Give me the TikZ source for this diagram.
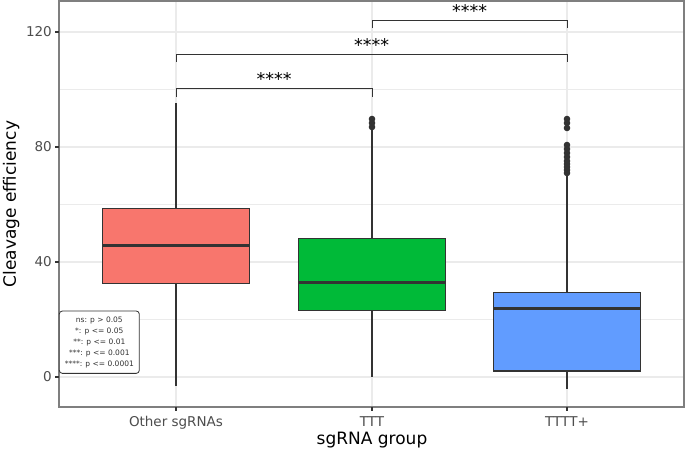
\documentclass[tikz,border=0pt]{standalone}
\usepackage{fontspec}
\setmainfont{DejaVu Sans}
\usetikzlibrary{positioning}
\definecolor{redbox}{HTML}{F8766D}
\definecolor{greenbox}{HTML}{00BA38}
\definecolor{bluebox}{HTML}{619CFF}
\definecolor{gridgray}{HTML}{EBEBEB}
\definecolor{darkline}{HTML}{333333}
\definecolor{panelgray}{HTML}{7F7F7F}
\definecolor{ticktext}{HTML}{4D4D4D}

\begin{document}
\begin{tikzpicture}[x=1pt,y=-1pt]
\tikzstyle{major}=[gridgray,line width=1.1pt]
\tikzstyle{minor}=[gridgray,line width=.55pt]
\tikzstyle{boxplot}=[draw=darkline,line width=1.3pt]
\tikzstyle{whisker}=[darkline,line width=1.3pt]
\tikzstyle{median}=[darkline,line width=2.6pt]
\tikzstyle{outlier}=[circle,fill=darkline,minimum size=6.6pt,inner sep=0pt]
\tikzstyle{bracket}=[darkline,line width=1pt]
\tikzstyle{stars}=[font=\fontsize{17.5}{20}\selectfont,inner sep=0pt,anchor=base]
\tikzstyle{ticklabel}=[ticktext,font=\fontsize{13.5}{16}\selectfont,inner sep=0pt]
\tikzstyle{axistitle}=[font=\fontsize{17}{20}\selectfont,inner sep=0pt,anchor=base]
  \useasboundingbox[fill=white] (0,0) rectangle (685,450);
  % grid
  \foreach \y in {89.5,204.5,319.5} \draw[minor] (59,\y) -- (684,\y);
  \foreach \y in {32,147,262,377} \draw[major] (59,\y) -- (684,\y);
  \foreach \x in {176,372,567} \draw[major] (\x,1) -- (\x,407);
  % Other sgRNAs
  \draw[whisker] (176,103) -- (176,208.3);
  \draw[whisker] (176,283.3) -- (176,386);
  \draw[boxplot,fill=redbox] (102.5,208.3) rectangle (249.5,283.3);
  \draw[median] (102.5,245.3) -- (249.5,245.3);
  % TTT
  \draw[whisker] (372,130) -- (372,238.3);
  \draw[whisker] (372,310.7) -- (372,377);
  \draw[boxplot,fill=greenbox] (298.5,238.3) rectangle (445.5,310.7);
  \draw[median] (298.5,282.3) -- (445.5,282.3);
  \foreach \y in {119,123,127} \node[outlier] at (372,\y) {};
  % TTTT+
  \draw[whisker] (567,175) -- (567,292.3);
  \draw[whisker] (567,371) -- (567,389);
  \draw[boxplot,fill=bluebox] (493.5,292.3) rectangle (640.5,371);
  \draw[median] (493.5,308.7) -- (640.5,308.7);
  \foreach \y in {119,123,128,145,149,153,157,161,164,167,170,173}
    \node[outlier] at (567,\y) {};
  % significance brackets
  \draw[bracket] (372,28) -- (372,20) -- (567,20) -- (567,28);
  \draw[bracket] (176,62) -- (176,54) -- (567,54) -- (567,62);
  \draw[bracket] (176,97) -- (176,88.7) -- (372,88.7) -- (372,97);
  \node[stars] (s1) at (469.5,17) {****};
  \node[stars] (s2) at (371.5,51) {****};
  \node[stars] (s3) at (274,85.7) {****};
  % panel and axes
  \draw[panelgray,line width=1.1pt] (59,1) rectangle (684,407);
  % legend
  \node[draw=darkline,line width=.8pt,rounded corners=3pt,fill=white,
        minimum width=80pt,minimum height=62.3pt,inner sep=0pt,
        align=center,text=darkline,font=\fontsize{7.5}{10.9}\selectfont]
        (legend) at (99.3,342.2) {ns: p > 0.05\\*: p <= 0.05\\**: p <= 0.01\\***: p <= 0.001\\****: p <= 0.0001};
  \foreach \y/\v in {32/120,147/80,262/40,377/0}{
    \draw[darkline,line width=1.1pt] (55,\y) -- (59,\y);
    \node[ticklabel,anchor=base east] (y\v) at (52,\y+4.9) {\v};
  }
  \foreach \x/\n/\t in {176/a/Other sgRNAs,372/b/TTT,567/c/TTTT+}{
    \draw[darkline,line width=1.1pt] (\x,407) -- (\x,411);
    \node[ticklabel,anchor=base] (x\n) at (\x,426) {\t};
  }
  \node[axistitle] (xtitle) at (372,444) {sgRNA group};
  \node[axistitle,rotate=90] (ytitle) at (16,204) {Cleavage efficiency};
\end{tikzpicture}
\end{document}
